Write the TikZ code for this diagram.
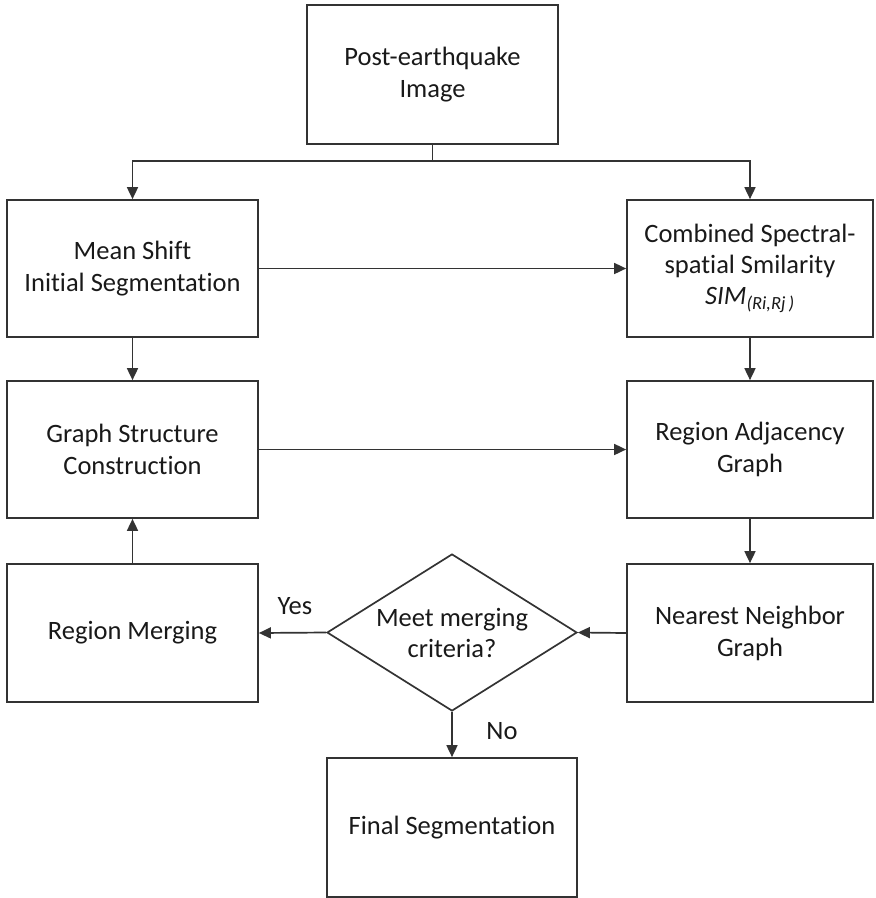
\documentclass[tikz,border=0pt]{standalone}
\usepackage{fontspec}
\setmainfont{Carlito}[Ligatures={NoCommon,NoRare,NoContextual}]
\usetikzlibrary{shapes.geometric,arrows.meta}
\definecolor{ln}{gray}{0.2}
\definecolor{tx}{gray}{0.1}
\tikzset{
  box/.style={draw=ln,line width=1.7pt,rectangle,inner sep=0pt,align=center,text=tx,font=\fontsize{26.5}{32}\selectfont},
  dia/.style={draw=ln,line width=1.7pt,diamond,inner sep=0pt,minimum width=250pt,minimum height=157pt},
  diatext/.style={align=center,text=tx,font=\fontsize{26.5}{31}\selectfont,inner sep=0pt},
  conn/.style={draw=ln,line width=1.7pt,-{Triangle[length=12pt,width=11pt]}},
  lbl/.style={text=tx,font=\fontsize{26.5}{32}\selectfont}}
\begin{document}
\begin{tikzpicture}[x=1pt,y=-1pt]
\useasboundingbox (0,0) rectangle (876,898);
\node[box,minimum width=251pt,minimum height=139pt] (post) at (432.5,74.5) {Post-earthquake\\Image};
\node[box,minimum width=251pt,minimum height=137pt] (ms) at (132.5,268.5) {Mean Shift\\Initial Segmentation};
\node[box,minimum width=246pt,minimum height=137pt,font=\fontsize{26.5}{31}\selectfont] (comb) at (750,268.5) {Combined Spectral-\\spatial Smilarity\\{\itshape SIM\textsubscript{(Ri,Rj\,)}}};
\node[box,minimum width=251pt,minimum height=137pt] (gs) at (132.5,449.5) {Graph Structure\\Construction};
\node[box,minimum width=246pt,minimum height=137pt] (rag) at (750,449.5) {Region Adjacency\\Graph};
\node[box,minimum width=251pt,minimum height=138pt] (rm) at (132.5,633) {Region Merging};
\node[box,minimum width=246pt,minimum height=138pt] (nn) at (750,633) {Nearest Neighbor\\Graph};
\node[dia] (d) at (452,632.5) {};
\node[diatext] (dt) at (d.center) {Meet merging\\criteria?};
\node[box,minimum width=250pt,minimum height=139pt] (fin) at (452,827.5) {Final Segmentation};
\coordinate (split) at (432.5,161);
\draw[draw=ln,line width=1.7pt] (post.south) -- (split);
\draw[conn] (split) -| (ms.north);
\draw[conn] (split) -| (comb.north);
\draw[conn] (ms.east) -- (comb.west);
\draw[conn] (ms.south) -- (gs.north);
\draw[conn] (comb.south) -- (rag.north);
\draw[conn] (gs.east) -- (rag.west);
\draw[conn] (rag.south) -- (nn.north);
\draw[conn] (nn.west) -- (d.east);
\draw[conn] (d.west) -- (rm.east);
\draw[conn] (rm.north) -- (gs.south);
\draw[conn] (d.south) -- (fin.north);
\node[lbl] (yes) at (295,606) {Yes};
\node[lbl] (no) at (502,731) {No};
\end{tikzpicture}
\end{document}
